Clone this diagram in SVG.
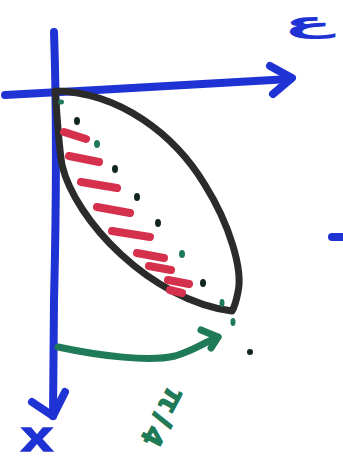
<svg xmlns="http://www.w3.org/2000/svg" width="343" height="464" viewBox="0 0 343 464">
<style>
.blue{fill:none;stroke:#1f33d4;stroke-width:8;stroke-linecap:round;stroke-linejoin:round}
.blk{fill:none;stroke:#2b2b2b;stroke-width:7;stroke-linecap:round;stroke-linejoin:round}
.red{stroke:#d5304c;stroke-width:8;stroke-linecap:round}
.grn{fill:none;stroke:#1f7a58;stroke-width:7;stroke-linecap:round;stroke-linejoin:round}
.dg{fill:#1f7a58}
.dk{fill:#10261c}
.lbl{font-family:"Liberation Sans","DejaVu Sans",sans-serif;font-weight:bold}
</style>
<rect width="343" height="464" fill="#ffffff"/>
<g id="axes">
<path class="blue" d="M54,32 C57,120 56,220 54,300 L53,416"/>
<path class="blue" d="M32,402 L53,416 L65,392"/>
<path class="blue" d="M5,95 C100,90 200,84 290,79"/>
<path class="blue" d="M270,66 L292,78 L273,94"/>
<path class="blue" d="M332,237 L346,237"/>
</g>
<g id="region">
<path class="blk" d="M55,91 C120,92 175,135 205,185 C230,225 243,270 238,292 C236,302 234,308 232,311 C150,300 75,220 62,165 C58,140 57,110 55,91 Z"/>
</g>
<g id="hatching">
<line class="red" x1="64" y1="132" x2="86" y2="139"/>
<line class="red" x1="69" y1="156" x2="99" y2="162"/>
<line class="red" x1="81" y1="182" x2="117" y2="188"/>
<line class="red" x1="97" y1="207" x2="130" y2="213"/>
<line class="red" x1="112" y1="231" x2="150" y2="237"/>
<line class="red" x1="137" y1="253" x2="164" y2="258"/>
<line class="red" x1="149" y1="266" x2="171" y2="270"/>
<line class="red" x1="168" y1="280" x2="189" y2="284"/>
<line class="red" x1="170" y1="290" x2="182" y2="293"/>
</g>
<g id="dots">
<ellipse class="dg" cx="61" cy="102" rx="3" ry="2.5"/>
<ellipse class="dk" cx="77" cy="121" rx="3" ry="4"/>
<ellipse class="dg" cx="97" cy="144" rx="3" ry="4"/>
<ellipse class="dk" cx="115" cy="169" rx="3" ry="4"/>
<ellipse class="dk" cx="137" cy="197" rx="3" ry="4"/>
<ellipse class="dk" cx="158" cy="223" rx="3" ry="4"/>
<ellipse class="dg" cx="182" cy="254" rx="3" ry="4"/>
<ellipse class="dk" cx="203" cy="283" rx="3" ry="4"/>
<ellipse class="dg" cx="222" cy="303" rx="2.5" ry="4"/>
<ellipse class="dg" cx="233" cy="322" rx="2.5" ry="4"/>
<ellipse class="dk" cx="250" cy="352" rx="3" ry="3"/>
</g>
<g id="connectors">
<path class="grn" d="M58,347 C100,356 150,362 175,356 C195,350 205,342 218,337"/>
<path class="grn" d="M201,330 L218,337 L211,348"/>
</g>
<g id="labels">
<text class="lbl" transform="translate(37,451) scale(1.35,1)" font-size="42" fill="#1f33d4" stroke="#1f33d4" stroke-width="1.5" text-anchor="middle">x</text>
<text transform="translate(308,32) scale(2,0.8)" font-family="DejaVu Sans,sans-serif" font-weight="bold" font-size="36" fill="#1f33d4" text-anchor="middle">ع</text>
<text class="lbl" transform="translate(153,415) rotate(118)" font-size="30" fill="#1f7a58" stroke="#1f7a58" stroke-width="1.5" text-anchor="middle" letter-spacing="6">π/4</text>
</g>
</svg>
